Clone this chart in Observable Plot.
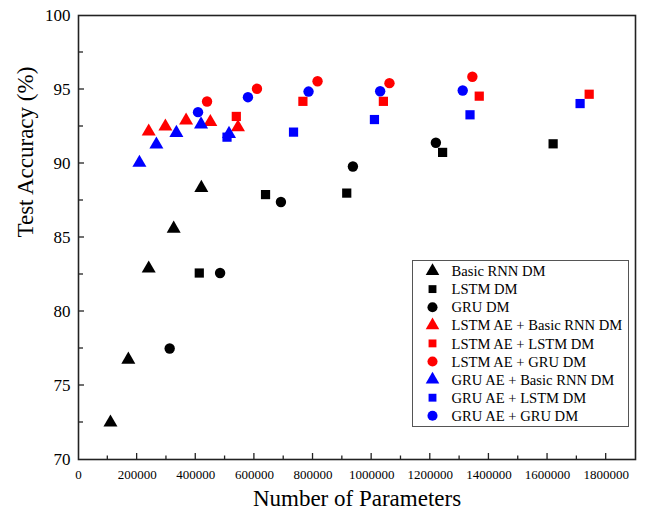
<!DOCTYPE html>
<html>
<head>
<meta charset="utf-8">
<script src="https://cdn.jsdelivr.net/npm/d3@7"></script>
<script src="https://cdn.jsdelivr.net/npm/@observablehq/plot@0.6"></script>
<style>
  body { margin: 0; background: #fff; }
  #chart svg { display: block; }
</style>
</head>
<body>
<div id="chart"></div>
<script>
// ---- Data ----
const seriesNames = [
  "Basic RNN DM", "LSTM DM", "GRU DM",
  "LSTM AE + Basic RNN DM", "LSTM AE + LSTM DM", "LSTM AE + GRU DM",
  "GRU AE + Basic RNN DM", "GRU AE + LSTM DM", "GRU AE + GRU DM"
];
const seriesColors = ["#000000", "#000000", "#000000", "#ff0000", "#ff0000", "#ff0000", "#0000ff", "#0000ff", "#0000ff"];
const seriesSymbols = ["triangle", "square", "circle", "triangle", "square", "circle", "triangle", "square", "circle"];

const basicRnnDmParams = [109000, 170000, 239500, 324700, 419000];
const basicRnnDmAcc    = [72.5, 76.75, 82.9, 85.6, 88.35];

const lstmDmParams = [412000, 638000, 915000, 1242000, 1619000];
const lstmDmAcc    = [82.6, 87.9, 88.0, 90.75, 91.33];

const gruDmParams = [311000, 483000, 690500, 936000, 1219000];
const gruDmAcc    = [77.5, 82.6, 87.4, 89.8, 91.4];

const lstmAeBasicRnnParams = [239500, 296400, 367000, 449700, 544000];
const lstmAeBasicRnnAcc    = [92.16, 92.5, 92.9, 92.8, 92.45];

const lstmAeLstmParams = [538300, 765500, 1040000, 1367000, 1742000];
const lstmAeLstmAcc    = [93.18, 94.2, 94.2, 94.55, 94.68];

const lstmAeGruParams = [438500, 608800, 815400, 1060700, 1343500];
const lstmAeGruAcc    = [94.19, 95.05, 95.56, 95.43, 95.86];

const gruAeBasicRnnParams = [207800, 265700, 333900, 418000, 513400];
const gruAeBasicRnnAcc    = [90.05, 91.28, 92.07, 92.64, 92.0];

const gruAeLstmParams = [506600, 733500, 1009500, 1335500, 1711000];
const gruAeLstmAcc    = [91.78, 92.12, 92.97, 93.29, 94.05];

const gruAeGruParams = [407700, 578000, 784700, 1029000, 1310600];
const gruAeGruAcc    = [93.47, 94.48, 94.86, 94.88, 94.93];

const xTicks = [0, 200000, 400000, 600000, 800000, 1000000, 1200000, 1400000, 1600000, 1800000];
const xMinorTicks = [100000, 300000, 500000, 700000, 900000, 1100000, 1300000, 1500000, 1700000];
const yTicks = [70, 75, 80, 85, 90, 95, 100];
const yMinorTicks = [72.5, 77.5, 82.5, 87.5, 92.5, 97.5];

const xTitle = "Number of Parameters";
const yTitle = "Test Accuracy (%)";

// ---- Build table ----
const seriesParams = [basicRnnDmParams, lstmDmParams, gruDmParams, lstmAeBasicRnnParams, lstmAeLstmParams, lstmAeGruParams, gruAeBasicRnnParams, gruAeLstmParams, gruAeGruParams];
const seriesAcc = [basicRnnDmAcc, lstmDmAcc, gruDmAcc, lstmAeBasicRnnAcc, lstmAeLstmAcc, lstmAeGruAcc, gruAeBasicRnnAcc, gruAeLstmAcc, gruAeGruAcc];
const data = [];
seriesNames.forEach((name, i) => {
  seriesParams[i].forEach((p, j) => data.push({series: name, params: p, acc: seriesAcc[i][j]}));
});

const serif = "'Liberation Serif', 'Times New Roman', 'DejaVu Serif', serif";

const chart = Plot.plot({
  width: 645,
  height: 519,
  marginLeft: 78,
  marginRight: 10,
  marginTop: 15,
  marginBottom: 60,
  style: {fontFamily: serif, background: "#fff", color: "#000", overflow: "visible"},
  x: {domain: [0, 1900000]},
  y: {domain: [70, 100]},
  color: {domain: seriesNames, range: seriesColors},
  symbol: {domain: seriesNames, range: seriesSymbols},
  marks: [
    Plot.axisX(xTicks, {tickSize: 0, tickPadding: 10, fontSize: 13, tickFormat: d => String(d), label: null}),
    Plot.axisY(yTicks, {tickSize: 0, tickPadding: 8, fontSize: 17, tickFormat: d => String(d), label: null}),
    Plot.dot(data, {x: "params", y: "acc", fill: "series", symbol: "series", r: 5.2, stroke: null}),
    Plot.frame({stroke: "#222", strokeWidth: 1.6}),
    Plot.text([xTitle], {text: d => d, frameAnchor: "bottom", dy: 46, fontSize: 23, fill: "#000"}),
    Plot.text([yTitle], {text: d => d, frameAnchor: "left", rotate: -90, dx: -53, fontSize: 23, fill: "#000"})
  ]
});

document.getElementById("chart").appendChild(chart);

// ---- Inward ticks, via the chart's own scales ----
const sx = chart.scale("x"), sy = chart.scale("y");
const svg = d3.select(chart);
const bottom = sy.apply(70), left = sx.apply(0);
const tg = svg.append("g").attr("stroke", "#222").attr("stroke-width", 1.3);
xTicks.filter(v => v > 0).forEach(v => tg.append("line")
  .attr("x1", sx.apply(v)).attr("x2", sx.apply(v)).attr("y1", bottom).attr("y2", bottom - 6));
xMinorTicks.forEach(v => tg.append("line")
  .attr("x1", sx.apply(v)).attr("x2", sx.apply(v)).attr("y1", bottom).attr("y2", bottom - 3.5));
yTicks.filter(v => v > 70 && v < 100).forEach(v => tg.append("line")
  .attr("x1", left).attr("x2", left + 6).attr("y1", sy.apply(v)).attr("y2", sy.apply(v)));
yMinorTicks.forEach(v => tg.append("line")
  .attr("x1", left).attr("x2", left + 5).attr("y1", sy.apply(v)).attr("y2", sy.apply(v)));

// ---- Legend ----
const symbolTypes = {triangle: d3.symbolTriangle, square: d3.symbolSquare, circle: d3.symbolCircle};
const symbolSizes = {triangle: 80, square: 62, circle: 80};
const lg = svg.append("g").attr("transform", "translate(412.5,260.5)");
lg.append("rect").attr("width", 216).attr("height", 166).attr("fill", "#fff").attr("stroke", "#555").attr("stroke-width", 1);
seriesNames.forEach((name, i) => {
  const y = 10.5 + i * 18.1;
  lg.append("path")
    .attr("transform", `translate(20,${y})`)
    .attr("d", d3.symbol(symbolTypes[seriesSymbols[i]], symbolSizes[seriesSymbols[i]])())
    .attr("fill", seriesColors[i]);
  lg.append("text")
    .attr("x", 39).attr("y", y).attr("dy", "0.35em")
    .attr("text-anchor", "start")
    .attr("font-family", serif).attr("font-size", 14.6).attr("fill", "#000")
    .text(name);
});
</script>
</body>
</html>
